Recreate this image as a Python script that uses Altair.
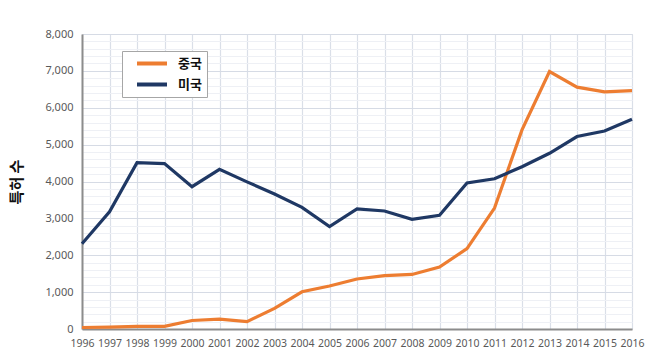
import altair as alt
import pandas as pd

years = list(range(1996, 2017))
china = [40, 50, 70, 70, 230, 270, 200, 560, 1010, 1165, 1355, 1445, 1480, 1680,
         2180, 3280, 5400, 6980, 6560, 6430, 6465]
usa = [2310, 3180, 4510, 4485, 3860, 4330, 3990, 3660, 3300, 2780, 3255, 3200, 2975,
       3085, 3960, 4075, 4400, 4765, 5220, 5370, 5690]
series_names = ["중국", "미국"]
series_colors = ["#ED7D31", "#1F3864"]
y_ticks = list(range(0, 8001, 200))

rows = []
for name, vals in zip(series_names, [china, usa]):
    for yr, v in zip(years, vals):
        rows.append({"연도": yr, "국가": name, "특허 수": v})
df = pd.DataFrame(rows)

base_font = "Noto Sans"
kr_font = "Noto Sans CJK KR"

chart = alt.Chart(df).mark_line(strokeWidth=3.2, strokeJoin="miter").encode(
    x=alt.X(
        "연도:Q",
        scale=alt.Scale(domain=[1996, 2016], nice=False, zero=False),
        axis=alt.Axis(
            values=years, format="d", title=None, labelOverlap=False,
            labelFlush=False, labelFont=base_font, labelFontSize=10.5,
            labelColor="#595959", labelPadding=9, ticks=False, grid=True,
            gridColor="#DADFE8", gridWidth=1.2, domainColor="#8C8C8C",
            domainWidth=2,
        ),
    ),
    y=alt.Y(
        "특허 수:Q",
        scale=alt.Scale(domain=[0, 8000], nice=False),
        axis=alt.Axis(
            values=y_ticks, title="특허 수", titleFont=kr_font, titleFontSize=15,
            titleFontWeight="bold", titleColor="#111111", titlePadding=20,
            labelExpr="datum.value % 1000 === 0 ? format(datum.value, ',') : ''",
            labelFont=base_font, labelFontSize=11, labelColor="#595959",
            labelPadding=9, ticks=False, grid=True, labelFlush=False,
            gridColor=alt.condition("datum.value % 1000 === 0",
                                    alt.value("#D6DBE5"), alt.value("#EEF0F5")),
            gridWidth=1.2, domainColor="#8C8C8C", domainWidth=2,
        ),
    ),
    color=alt.Color(
        "국가:N",
        scale=alt.Scale(domain=series_names, range=series_colors),
        sort=series_names,
        legend=alt.Legend(
            title=None, orient="none", legendX=40, legendY=17,
            symbolType="stroke", symbolSize=900, symbolStrokeWidth=4,
            symbolOffset=8,
            labelFont=kr_font, labelFontSize=13, labelFontWeight="bold",
            labelColor="#111111", strokeColor="#A6A6A6", fillColor="white",
            padding=5, rowPadding=6, labelOffset=9, clipHeight=15,
        ),
    ),
).properties(
    width=550, height=295,
    autosize=alt.AutoSizeParams(type="none"),
    padding={"left": 82, "top": 34, "right": 18, "bottom": 33},
).configure_view(stroke=None).configure(background="white")

chart.save("out.html", embed_options={"renderer": "svg", "actions": False})
